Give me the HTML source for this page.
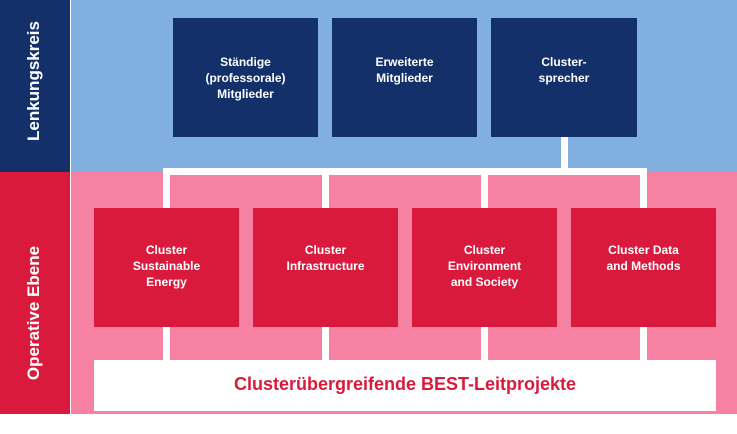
<!DOCTYPE html>
<html><head><style>
body{margin:0;width:737px;height:414px;position:relative;overflow:hidden;font-family:"Liberation Sans",sans-serif;font-weight:bold;}
div{position:absolute;box-sizing:border-box;}
.b{color:#fff;font-size:12px;line-height:16px;text-align:center;padding-top:36px;}
.n{background:#14306a;}
.r{background:#da1a3c;padding-top:34px;}
.w{background:#fff;}
.side{color:#fff;font-size:17px;transform:rotate(-90deg);white-space:nowrap;text-align:center;}
</style></head><body>
<div style="left:0;top:0;width:70px;height:172px;background:#14306a"></div>
<div style="left:0;top:172px;width:70px;height:242px;background:#da1a3c"></div>
<div style="left:71px;top:0;width:666px;height:172px;background:#80afe0"></div>
<div style="left:71px;top:172px;width:666px;height:242px;background:#f681a2"></div>
<div class="side" style="left:-51px;top:70px;width:172px;height:22px">Lenkungskreis</div>
<div class="side" style="left:-86px;top:302px;width:242px;height:22px">Operative Ebene</div>
<div class="b n" style="left:173px;top:18px;width:145px;height:119px">Ständige<br>(professorale)<br>Mitglieder</div>
<div class="b n" style="left:332px;top:18px;width:145px;height:119px">Erweiterte<br>Mitglieder</div>
<div class="b n" style="left:491px;top:18px;width:146px;height:119px">Cluster-<br>sprecher</div>
<div class="w" style="left:561px;top:137px;width:7px;height:32px"></div>
<div class="w" style="left:163px;top:168px;width:484px;height:7px"></div>
<div class="w" style="left:163px;top:168px;width:7px;height:195px"></div>
<div class="w" style="left:322px;top:168px;width:7px;height:195px"></div>
<div class="w" style="left:481px;top:168px;width:7px;height:195px"></div>
<div class="w" style="left:640px;top:168px;width:7px;height:195px"></div>
<div class="b r" style="left:94px;top:208px;width:145px;height:119px">Cluster<br>Sustainable<br>Energy</div>
<div class="b r" style="left:253px;top:208px;width:145px;height:119px">Cluster<br>Infrastructure</div>
<div class="b r" style="left:412px;top:208px;width:145px;height:119px">Cluster<br>Environment<br>and Society</div>
<div class="b r" style="left:571px;top:208px;width:145px;height:119px">Cluster Data<br>and Methods</div>
<div class="w" style="left:94px;top:360px;width:622px;height:51px;color:#da1a3c;font-size:18px;text-align:center;line-height:49px">Clusterübergreifende BEST-Leitprojekte</div>
</body></html>
